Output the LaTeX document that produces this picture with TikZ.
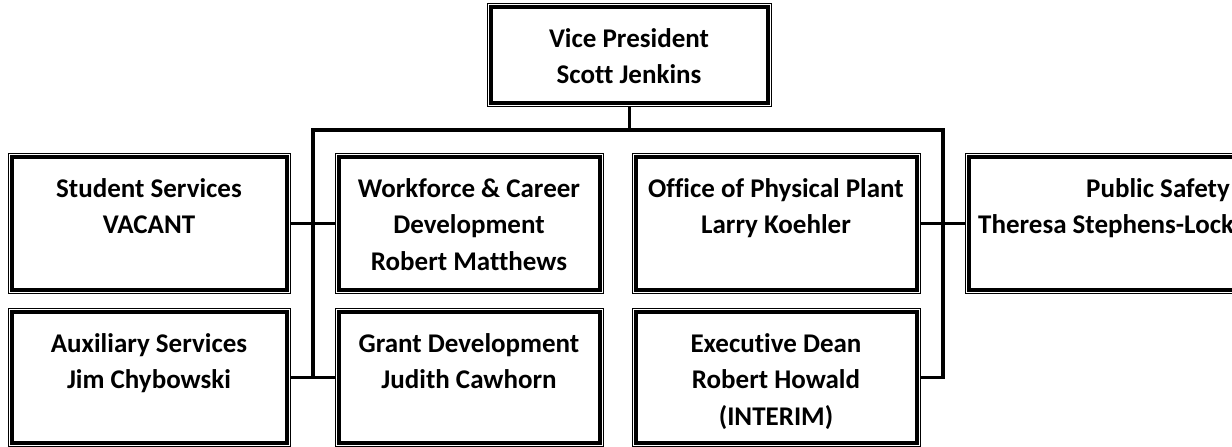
\documentclass[tikz,border=0pt]{standalone}
\usepackage{fontspec}
\setmainfont{Carlito}[Ligatures=NoCommon]
\begin{document}
\begin{tikzpicture}[x=1pt,y=-1pt,
  box/.style={draw, line width=0.9pt, rectangle, inner sep=0pt, anchor=north west},
  inner/.style={line width=3.2pt},
  txt/.style={font=\fontsize{27pt}{36.5pt}\selectfont\bfseries, align=center, inner sep=0pt, anchor=base},
  conn/.style={line width=3.2pt}]
\useasboundingbox (0,0) rectangle (1232,447);
% boxes (outer thin frame)
\node[box, minimum width=284pt, minimum height=103pt] (vp) at (487,3) {};
\node[box, minimum width=282pt, minimum height=140pt] (ss) at (8,153) {};
\node[box, minimum width=268pt, minimum height=140pt] (wf) at (335,153) {};
\node[box, minimum width=288pt, minimum height=140pt] (op) at (632,153) {};
\node[box, minimum width=320pt, minimum height=140pt] (ps) at (965,153) {};
\node[box, minimum width=282pt, minimum height=138pt] (ax) at (8,308) {};
\node[box, minimum width=268pt, minimum height=138pt] (gd) at (335,308) {};
\node[box, minimum width=288pt, minimum height=138pt] (ed) at (632,308) {};
% inner thick frames
\foreach \n in {vp,ss,wf,op,ps,ax,gd,ed}
  \draw[inner] ([shift={(3.9pt,-3.9pt)}]\n.north west) rectangle ([shift={(-3.9pt,3.9pt)}]\n.south east);
% texts (anchor = baseline of the last line)
\node[txt] (vpt) at (629,83.5) {Vice President\\Scott Jenkins};
\node[txt] (sst) at (149,233.5) {Student Services\\VACANT};
\node[txt] (wft) at (469,270) {Workforce \& Career\\Development\\Robert Matthews};
\node[txt] (opt) at (776,233.5) {Office of Physical Plant\\Larry Koehler};
\node[txt, align=left, anchor=base west] (pst) at (978,233.5) {\hspace*{108pt}Public Safety\\Theresa Stephens-Lock};
\node[txt] (axt) at (149,388.5) {Auxiliary Services\\Jim Chybowski};
\node[txt] (gdt) at (469,388.5) {Grant Development\\Judith Cawhorn};
\node[txt] (edt) at (776,425) {Executive Dean\\Robert Howald\\(INTERIM)};
% connectors
\coordinate (barL) at (313,130);
\coordinate (barR) at (943,130);
\draw[conn] (vp.south) -- (vp.south |- barL);
\draw[conn] (barL |- ax.east) -- (barL) -- (barR) -- (barR |- ed.east) -- (ed.east);
\draw[conn] (ss.east) -- (wf.west);
\draw[conn] (ax.east) -- (gd.west);
\draw[conn] (op.east) -- (ps.west);
\end{tikzpicture}
\end{document}
